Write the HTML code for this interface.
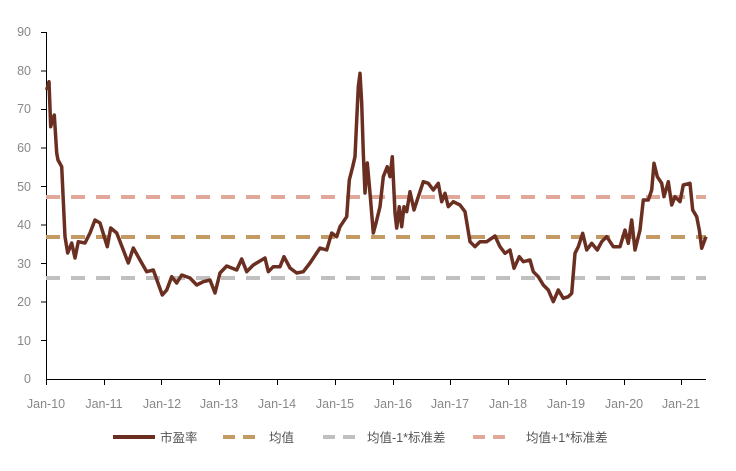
<!DOCTYPE html>
<html><head><meta charset="utf-8"><style>
html,body{margin:0;padding:0;background:#fff;}
svg{display:block;font-family:"Liberation Sans","Noto Sans CJK SC",sans-serif;}
</style></head><body>
<svg width="736" height="471" viewBox="0 0 736 471" xmlns="http://www.w3.org/2000/svg">
<g font-size="12.5" fill="#888" text-anchor="end">
<text x="31" y="383">0</text><text x="31" y="345">10</text><text x="31" y="306">20</text><text x="31" y="268">30</text><text x="31" y="229">40</text><text x="31" y="191">50</text><text x="31" y="152">60</text><text x="31" y="113">70</text><text x="31" y="75">80</text><text x="31" y="36">90</text>
</g>
<g stroke="#000" stroke-width="1">
<line x1="46.5" y1="32" x2="46.5" y2="379"/>
<line x1="41" y1="32.5" x2="46" y2="32.5"/><line x1="41" y1="71" x2="46" y2="71"/><line x1="41" y1="109.5" x2="46" y2="109.5"/><line x1="41" y1="148" x2="46" y2="148"/><line x1="41" y1="186.5" x2="46" y2="186.5"/><line x1="41" y1="225" x2="46" y2="225"/><line x1="41" y1="263.5" x2="46" y2="263.5"/><line x1="41" y1="302" x2="46" y2="302"/><line x1="41" y1="340.5" x2="46" y2="340.5"/>
<line x1="46" y1="379.5" x2="706" y2="379.5"/>
<line x1="46.5" y1="379" x2="46.5" y2="385"/><line x1="104.5" y1="379" x2="104.5" y2="385"/><line x1="161.5" y1="379" x2="161.5" y2="385"/><line x1="219.5" y1="379" x2="219.5" y2="385"/><line x1="277.5" y1="379" x2="277.5" y2="385"/><line x1="335.5" y1="379" x2="335.5" y2="385"/><line x1="393.5" y1="379" x2="393.5" y2="385"/><line x1="450.5" y1="379" x2="450.5" y2="385"/><line x1="508.5" y1="379" x2="508.5" y2="385"/><line x1="566.5" y1="379" x2="566.5" y2="385"/><line x1="624.5" y1="379" x2="624.5" y2="385"/><line x1="681.5" y1="379" x2="681.5" y2="385"/>
</g>
<g font-size="12.5" fill="#888" text-anchor="middle">
<text x="46" y="408">Jan-10</text><text x="104" y="408">Jan-11</text><text x="162" y="408">Jan-12</text><text x="219" y="408">Jan-13</text><text x="277" y="408">Jan-14</text><text x="335" y="408">Jan-15</text><text x="393" y="408">Jan-16</text><text x="450" y="408">Jan-17</text><text x="508" y="408">Jan-18</text><text x="566" y="408">Jan-19</text><text x="624" y="408">Jan-20</text><text x="681" y="408">Jan-21</text>
</g>
<g stroke-width="4" stroke-dasharray="14 11" fill="none">
<line x1="46" y1="197" x2="706" y2="197" stroke="#e0a898"/>
<line x1="46" y1="237" x2="706" y2="237" stroke="#c49a64"/>
<line x1="46" y1="278" x2="706" y2="278" stroke="#c0c0c0"/>
</g>
<polyline fill="none" stroke="#6b2f22" stroke-width="3.5" stroke-linejoin="round" points="46.7,90 49,81.7 50.7,126.7 52.3,120 54.3,115 56.7,153 58,160 61.7,166.7 65,236.7 67.7,253 71.7,243 75,258 78.3,241.7 85,243 90,233 95,220 100,223 107.3,246.7 110.7,228 116.7,233 123.3,250 128.3,263 133.3,248 140,260 146.7,271.7 153.3,270 162.3,295 166.7,290 171.7,276.7 176.7,283 181.7,275 190,278 196.7,285 203.3,281.7 210,280 215,293 220,273 226.7,266 236.7,270 241.7,259 246.7,271.7 253.3,265 265,258 268.3,271.7 273.3,266.7 280,266.7 284,256.7 290,268 296.7,273 303.3,271.7 310,263 320,248 326.7,250 331.7,233 336.7,236.7 340,226.7 346.7,216.7 349.3,180 352.7,166.7 355,156.7 356.7,120 358.3,86.7 360,73.3 361.7,103 363.3,153 365,193 367.3,163 370,193 373.3,233 376,223 380,206.7 383.3,176.7 387.3,166.7 390,176.7 392.3,156.7 395,213 396.7,228 399.3,206.7 401.7,226.7 404,206.7 406.7,211.7 410,191.7 414,210 418.3,196.7 423.3,181.7 428.3,183.3 433.3,190 438.3,183.3 441.7,201.7 445,193.3 448.3,206.7 453.3,201.7 460,205 465,211.7 470,241.7 475,246.7 480,241.7 486.7,241.7 495,236 500,246.7 505,253.3 510,250 514,268.3 519.3,256.7 523.3,261.7 530,260 533.3,271.7 538.3,276.7 543.3,285 548.3,290 553.3,301.7 558.3,290 563.3,298.3 568.3,296.7 571.7,293.3 575,253.3 578.3,246.7 582.7,233.3 586.7,250 591.7,243.3 597.3,250 601.7,241.7 606.7,236.7 613.3,246.7 620,246.7 625,230 628.3,243.3 631.7,220 635,250 640,230 643.3,200 648.3,200 651.7,190 654,163.3 657.3,176.7 661.7,183.3 664,196.7 668.3,181.7 671.7,205 675,196.7 680,201.7 683.3,185 690,183.3 692.7,210 696.7,216.7 699.3,230 701.7,248.3 706,236.7"/>
<g font-size="12.5" fill="#555">
<line x1="113" y1="437" x2="155" y2="437" stroke="#6b2f22" stroke-width="4"/>
<text x="160" y="442">市盈率</text>
<line x1="223" y1="437" x2="262" y2="437" stroke="#c49a64" stroke-width="4" stroke-dasharray="12 8"/>
<text x="269" y="442">均值</text>
<line x1="323" y1="437" x2="360" y2="437" stroke="#c0c0c0" stroke-width="4" stroke-dasharray="12 8"/>
<text x="367" y="442">均值-1*标准差</text>
<line x1="473" y1="437" x2="513" y2="437" stroke="#e0a898" stroke-width="4" stroke-dasharray="12 8"/>
<text x="526" y="442">均值+1*标准差</text>
</g>
</svg>
</body></html>
